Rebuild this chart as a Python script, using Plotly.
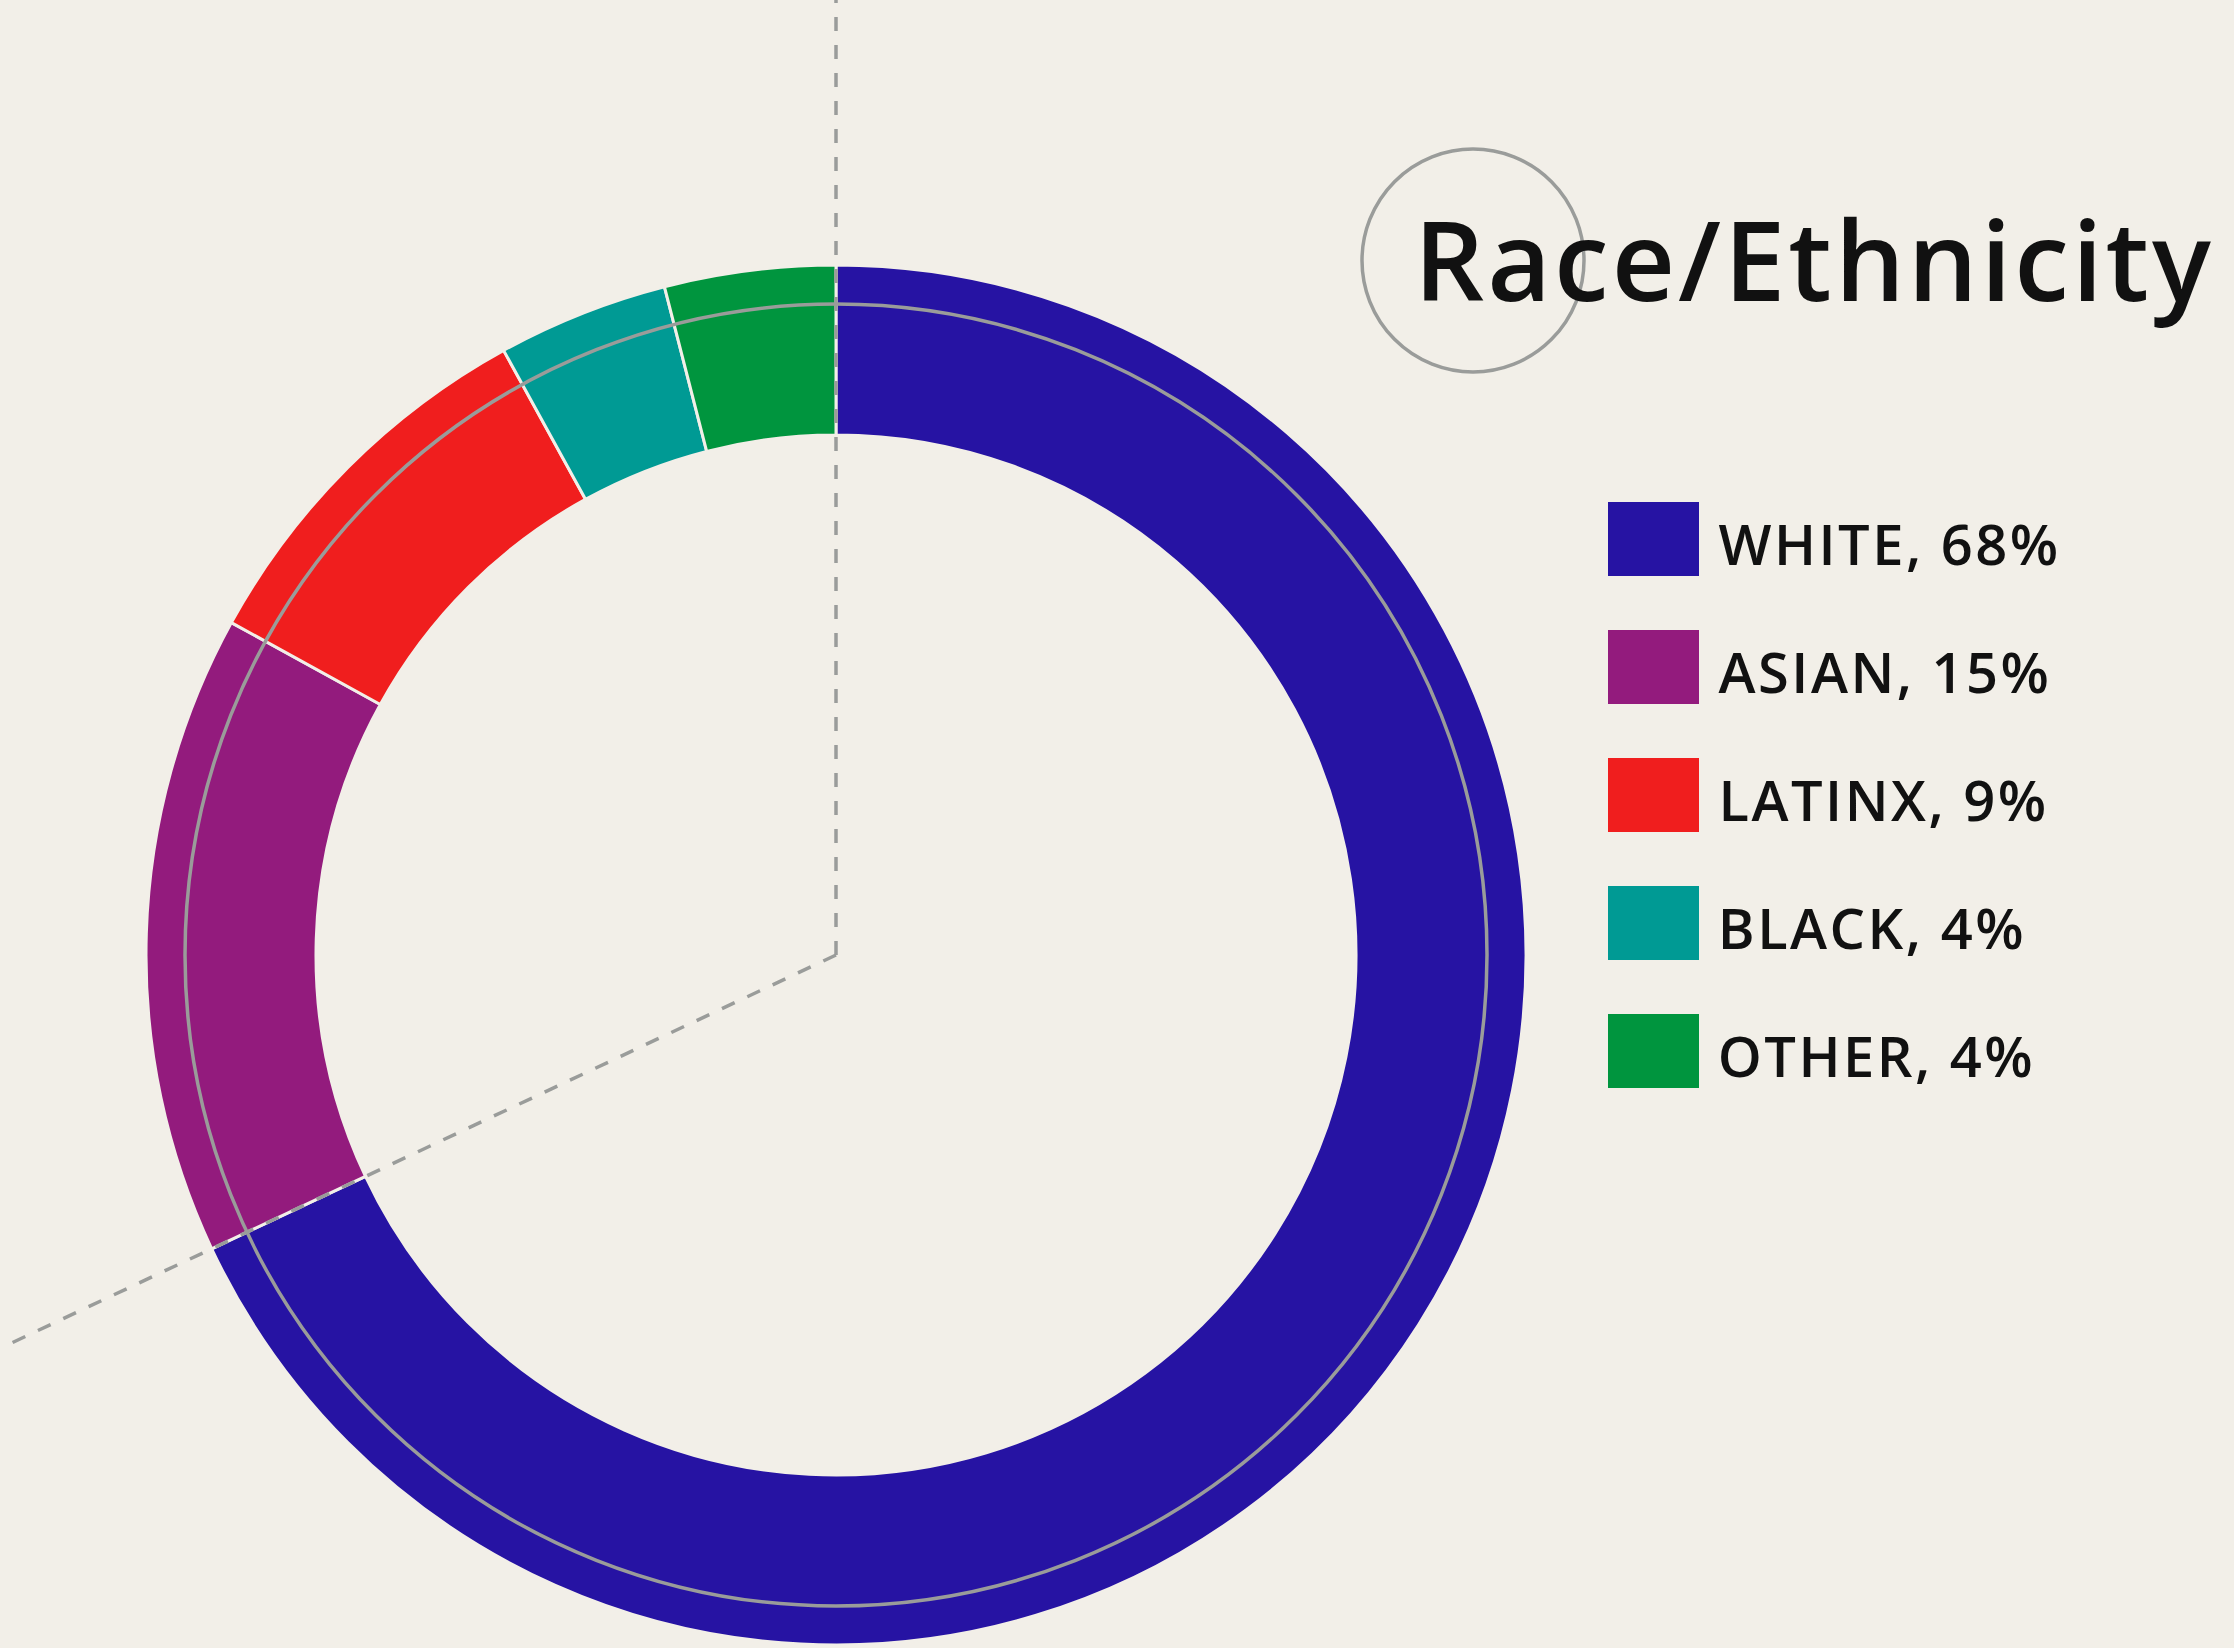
import math

import plotly.graph_objects as go

W, H = 2234, 1648

BG = "#f2efe8"
GREY = "#9a9c9a"
INK = "#111111"
FONT = "Open Sans"

groups = ["WHITE", "ASIAN", "LATINX", "BLACK", "OTHER"]
shares = [68, 15, 9, 4, 4]
colors = ["#2613a3", "#931b7d", "#f01e1e", "#009a94", "#00953e"]

title = "Race/Ethnicity"

# donut geometry in pixels
CX, CY = 836, 955
R_OUT = 690
R_IN = 520
R_RING = 651

# letter tracking (px) for title and legend text
TRACK_TITLE = 3
TRACK_LEG = 2.5


def px(x):
    return x / W


def py(y):
    return 1 - y / H


fig = go.Figure(
    go.Pie(
        labels=groups,
        values=shares,
        sort=False,
        direction="clockwise",
        rotation=0,
        hole=R_IN / R_OUT,
        marker=dict(colors=colors, line=dict(color=BG, width=3)),
        textinfo="none",
        hoverinfo="label+percent",
        showlegend=False,
        domain=dict(x=[px(CX - R_OUT), px(CX + R_OUT)], y=[py(CY + R_OUT), py(CY - R_OUT)]),
    )
)

shapes = []
dash = dict(color=GREY, width=3.5, dash="14px,14px")

# vertical guide from centre to the top edge
shapes.append(dict(type="line", xref="paper", yref="paper",
                   x0=px(CX), y0=py(CY), x1=px(CX), y1=1, line=dash))

# guide along the end of the first slice, out to the left edge
ang = math.radians(360 * shares[0] / sum(shares))
dx, dy = math.sin(ang), -math.cos(ang)  # screen coords, y down
t = CX / -dx
shapes.append(dict(type="line", xref="paper", yref="paper",
                   x0=px(CX), y0=py(CY), x1=px(CX + dx * t), y1=py(CY + dy * t), line=dash))

# thin ring through the donut
shapes.append(dict(type="circle", xref="paper", yref="paper",
                   x0=px(CX - R_RING), x1=px(CX + R_RING),
                   y0=py(CY + R_RING), y1=py(CY - R_RING),
                   line=dict(color=GREY, width=3.5)))

# circle around the start of the title
shapes.append(dict(type="circle", xref="paper", yref="paper",
                   x0=px(1362), x1=px(1584), y0=py(372), y1=py(149),
                   line=dict(color=GREY, width=3.5)))

# tracking is added around the centre of each text, so shift right by half of it
annotations = [
    dict(text=title, xref="paper", yref="paper",
         x=px(1412 + len(title) * TRACK_TITLE / 2), y=py(258),
         xanchor="left", yanchor="middle", showarrow=False,
         font=dict(family=FONT, size=110, color=INK, weight=600)),
]

# hand-built legend with big swatches
row0, step = 502, 128
for i, (g, s, c) in enumerate(zip(groups, shares, colors)):
    top = row0 + i * step
    label = f"{g}, {s}%"
    shapes.append(dict(type="rect", xref="paper", yref="paper",
                       x0=px(1608), x1=px(1699), y0=py(top + 74), y1=py(top),
                       fillcolor=c, line=dict(width=0)))
    annotations.append(dict(text=label, xref="paper", yref="paper",
                            x=px(1716 + len(label) * TRACK_LEG / 2), y=py(top + 41),
                            xanchor="left", yanchor="middle", showarrow=False,
                            font=dict(family=FONT, size=56, color=INK, weight=600)))

fig.update_layout(
    width=W,
    height=H,
    margin=dict(l=0, r=0, t=0, b=0),
    paper_bgcolor=BG,
    plot_bgcolor=BG,
    shapes=shapes,
    annotations=annotations,
)

# page without the default body margin, plus the tracked-out lettering
post = (
    "document.body.style.margin='0';"
    f"document.body.style.background='{BG}';"
    "document.querySelectorAll('.annotation-text').forEach(function(t){"
    f"t.style.letterSpacing = t.textContent === '{title}' ? '{TRACK_TITLE}px' : '{TRACK_LEG}px';"
    "});"
)

fig.write_html("out.html", post_script=post, config={"displayModeBar": False})
